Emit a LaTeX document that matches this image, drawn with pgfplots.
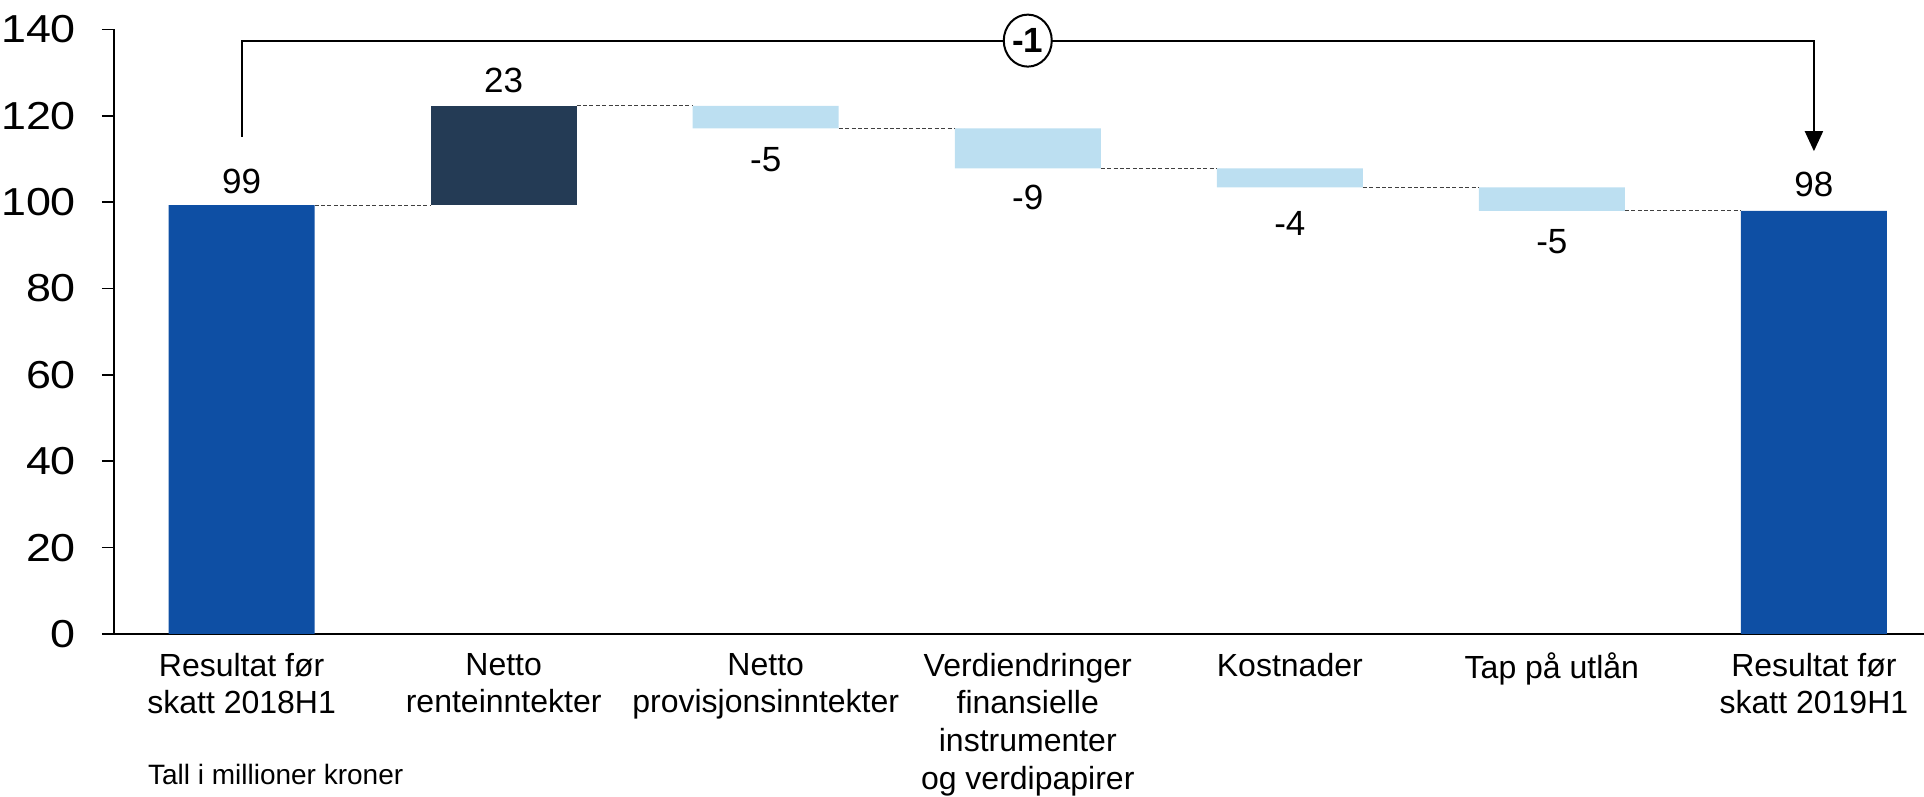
\documentclass[border=0pt]{standalone}
\usepackage{pgfplots}
\pgfplotsset{compat=1.18}
\usepackage{fontspec}
\setmainfont{Liberation Sans}
\newfontfamily\tickfont{Liberation Sans}[FakeStretch=1.15]
\usetikzlibrary{arrows.meta,shapes.geometric}
\definecolor{barblue}{HTML}{0E4FA4}
\definecolor{barnavy}{HTML}{243B55}
\definecolor{barlight}{HTML}{BCDFF1}
\definecolor{conn}{HTML}{404040}
\pgfplotsset{
  wfbase/.style={
    width=905pt, height=302.3pt, scale only axis,
    xmin=-0.487, xmax=6.42, ymin=0, ymax=140,
    clip=false,
  },
  conn/.style={draw=conn, mark=none, line width=0.6pt, dash pattern=on 2pt off 1.2pt},
}
\begin{document}
\begin{tikzpicture}
\begin{axis}[
  wfbase,
  axis x line*=bottom, axis y line*=left,
  axis line style={-, line width=0.8pt, black},
  ytick={0,20,...,140},
  tick align=outside, major tick length=6pt,
  ytick style={line width=0.8pt, black},
  xtick={0,...,6}, xtick style={draw=none},
  xticklabels={{Resultat før\\skatt 2018H1},{Netto\\renteinntekter},{Netto\\provisjonsinntekter},{Verdiendringer\\finansielle\\instrumenter\\og verdipapirer},{Kostnader},{Tap på utlån},{Resultat før\\skatt 2019H1}},
  xticklabel style={align=center, font=\fontsize{16}{18.8}\selectfont, yshift=0pt},
  yticklabel style={font=\tickfont\fontsize{19.5}{23}\selectfont, xshift=-9.5pt},
  /pgf/number format/assume math mode=true,
  ybar stacked, bar width=0.557,
]
\addplot[draw=none, fill=none] coordinates {(0,0) (1,99.3) (2,117.1) (3,107.8) (4,103.4) (5,98.0) (6,0)};
\addplot[draw=none, fill=barblue] coordinates {(0,99.3) (1,0) (2,0) (3,0) (4,0) (5,0) (6,98.0)};
\addplot[draw=none, fill=barnavy] coordinates {(0,0) (1,23.0) (2,0) (3,0) (4,0) (5,0) (6,0)};
\addplot[draw=none, fill=barlight] coordinates {(0,0) (1,0) (2,5.2) (3,9.3) (4,4.4) (5,5.4) (6,0)};
\node[anchor=base west, font=\fontsize{14}{17}\selectfont] at ([xshift=13.5pt,yshift=-75.5pt]rel axis cs:0,0) {Tall i millioner kroner};
\end{axis}
\begin{axis}[
  wfbase, hide axis,
]
\addplot[conn] coordinates {(0.2785,99.3) (0.7215,99.3)};
\addplot[conn] coordinates {(1.2785,122.3) (1.7215,122.3)};
\addplot[conn] coordinates {(2.2785,117.1) (2.7215,117.1)};
\addplot[conn] coordinates {(3.2785,107.8) (3.7215,107.8)};
\addplot[conn] coordinates {(4.2785,103.4) (4.7215,103.4)};
\addplot[conn] coordinates {(5.2785,98.0) (5.7215,98.0)};
\addplot[draw=none, mark=none, nodes near coords, point meta=explicit symbolic,
  every node near coord/.append style={anchor=base, black, font=\fontsize{17.5}{21}\selectfont}]
  coordinates {(0,102.1)[99] (1,125.5)[23] (2,107.2)[-5] (3,98.2)[-9] (4,92.2)[-4] (5,88.0)[-5] (6,101.4)[98]};
\draw[black, line width=1pt, -{Triangle[width=9pt,length=10pt]}]
  (axis cs:0,115.1) -- (axis cs:0,137.4) -- (axis cs:6,137.4) -- (axis cs:6,111.8);
\node[ellipse, draw=black, line width=1pt, fill=white, minimum width=24pt, minimum height=26pt, inner sep=0pt,
  font=\bfseries\fontsize{17.5}{21}\selectfont] at (axis cs:3,137.4) {-1};
\end{axis}
\pgfresetboundingbox
\useasboundingbox (-57pt,-81.5pt) rectangle (905pt,317pt);
\end{tikzpicture}
\end{document}
